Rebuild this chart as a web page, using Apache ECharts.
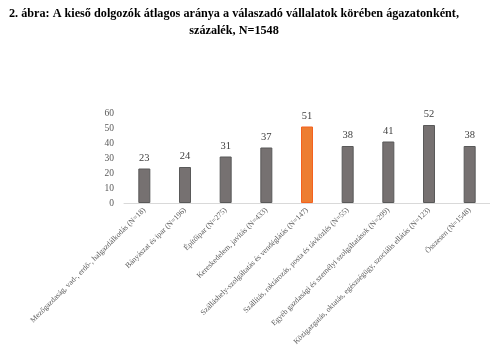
<!DOCTYPE html>
<html>
<head>
<meta charset="utf-8">
<script src="https://cdn.jsdelivr.net/npm/echarts@6/dist/echarts.min.js"></script>
<style>
html, body { margin: 0; padding: 0; background: #fff; }
#chart { width: 490px; height: 351px; }
</style>
</head>
<body>
<div id="chart"></div>
<script>
// ágazatok
const categories = [
    "Mezőgazdaság, vad-, erdő-, halgazdálkodás (N=18)",
    "Bányászat és ipar (N=196)",
    "Építőipar (N=275)",
    "Kereskedelem, javítás (N=433)",
    "Szálláshely-szolgáltatás és vendéglátás (N=147)",
    "Szállítás, raktározás, posta és távközlés (N=55)",
    "Egyéb gazdasági és személyi szolgáltatások (N=299)",
    "Közigazgatás, oktatás, egészségügy, szociális ellátás (N=123)",
    "Összesen (N=1548)"
]
const values = [23, 24, 31, 37, 51, 38, 41, 52, 38]
const highlightIndex = 4

const chart = echarts.init(document.getElementById('chart'))

const option = {
    animation: false,
    title: {
        text: "2. ábra: A kieső dolgozók átlagos aránya a válaszadó vállalatok körében ágazatonként,\nszázalék, N=1548",
        left: 229,
        top: 0,
        textAlign: 'center',
        textStyle: {
            fontFamily: "Liberation Serif",
            fontSize: 12.2,
            fontWeight: 'bold',
            color: '#000',
            lineHeight: 17,
            align: 'center'
        }
    },
    grid: {
        left: 124,
        top: 113,
        width: 373,
        height: 90
    },
    xAxis: {
        type: 'category',
        data: categories,
        axisLine: { lineStyle: { color: '#d9d9d9' } },
        axisTick: { show: false },
        axisLabel: {
            interval: 0,
            rotate: 45,
            color: '#595959',
            fontFamily: "Liberation Serif",
            fontSize: 7.7,
            margin: 6
        }
    },
    yAxis: {
        type: 'value',
        min: 0,
        max: 60,
        interval: 10,
        axisLine: { show: false },
        axisTick: { show: false },
        splitLine: { show: false },
        axisLabel: {
            color: '#595959',
            fontFamily: "Liberation Serif",
            fontSize: 9.5,
            margin: 10
        }
    },
    series: [{
        type: 'bar',
        barWidth: 12,
        data: values.map((v, i) => ({
            value: v,
            itemStyle: i === highlightIndex
                ? { color: '#ED7D31', borderColor: '#F4611E', borderWidth: 1 }
                : { color: '#767171', borderColor: '#595959', borderWidth: 1 }
        })),
        label: {
            show: true,
            position: 'top',
            distance: 5,
            color: '#404040',
            fontFamily: "Liberation Serif",
            fontSize: 10.5
        }
    }]
}
chart.setOption(option)
</script>
</body>
</html>
